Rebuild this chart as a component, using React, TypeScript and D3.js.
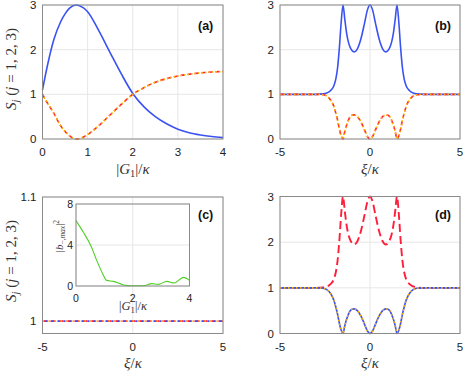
import React from 'react';
import * as d3 from 'd3';

// panel (a): S_j against |G1|/kappa
const gA = [0, 0.1, 0.25, 0.4, 0.5, 0.6, 0.75, 0.9, 1, 1.25, 1.5, 1.75, 2, 2.25, 2.5, 2.75, 3, 3.25, 3.5, 3.75, 4];
const sA1 = [1.1, 1.6, 2.22, 2.62, 2.8, 2.93, 3.0, 2.94, 2.85, 2.42, 1.93, 1.45, 1.02, 0.72, 0.5, 0.34, 0.22, 0.14, 0.09, 0.055, 0.03];
const sA23 = [1.0, 0.82, 0.58, 0.3, 0.17, 0.07, 0.0, 0.04, 0.1, 0.3, 0.54, 0.78, 1.0, 1.15, 1.27, 1.35, 1.41, 1.45, 1.48, 1.5, 1.51];

// panels (b), (d): S_j against xi/kappa
const xi = [
  -5, -4, -3, -2.6, -2.4, -2.2, -2.0, -1.9, -1.8, -1.7, -1.6, -1.5, -1.4, -1.3, -1.2, -1.1, -1.0, -0.88, -0.7, -0.5, -0.3, -0.15,
  0,
  0.15, 0.3, 0.5, 0.7, 0.88, 1.0, 1.1, 1.2, 1.3, 1.4, 1.5, 1.6, 1.7, 1.8, 1.9, 2.0, 2.2, 2.4, 2.6, 3, 4, 5,
];
const sHigh = [
  1, 1, 1, 1.01, 1.03, 1.08, 1.2, 1.34, 1.6, 2.05, 2.62, 3.0, 2.68, 2.37, 2.17, 2.05, 1.98, 1.95, 2.02, 2.25, 2.6, 2.88,
  3.0,
  2.88, 2.6, 2.25, 2.02, 1.95, 1.98, 2.05, 2.17, 2.37, 2.68, 3.0, 2.62, 2.05, 1.6, 1.34, 1.2, 1.08, 1.03, 1.01, 1, 1, 1,
];
const sLow = [
  1, 1, 1, 0.99, 0.96, 0.88, 0.72, 0.58, 0.42, 0.22, 0.07, 0, 0.17, 0.31, 0.42, 0.5, 0.53, 0.54, 0.5, 0.38, 0.2, 0.06,
  0,
  0.06, 0.2, 0.38, 0.5, 0.54, 0.53, 0.5, 0.42, 0.31, 0.17, 0, 0.07, 0.22, 0.42, 0.58, 0.72, 0.88, 0.96, 0.99, 1, 1, 1,
];

// panel (c): flat line and inset
const xiC = [-5, 5];
const sC = [1, 1];
const gInset = [0, 0.26, 0.52, 0.73, 0.94, 1.08, 1.32, 1.55, 1.73, 1.96, 2.38, 2.67, 2.9, 3.2, 3.46, 3.79, 4.0];
const bInset = [6.38, 5.24, 3.95, 2.5, 1.2, 0.55, 0.45, 0.23, 0.06, 0.03, 0.03, 0.23, 0.16, 0.45, 0.29, 0.84, 0.55];

const ticksG = [0, 1, 2, 3, 4];
const ticksXi = [-5, 0, 5];
const ticksS = [0, 1, 2, 3];
const ticksC = [1, 1.1];
const ticksInX = [0, 2, 4];
const ticksInY = [0, 4, 8];

const BLUE = '#3b52f2';
const RED = '#ff1f3a';
const ORANGE = '#ffb300';
const GREEN = '#4fcf25';
const BOX = '#8a8a8a';
const GRID = '#e6e6e6';
const SANS = 'Liberation Sans, Arial, sans-serif';
const SERIF = 'Liberation Serif, Times New Roman, serif';

type Sc = d3.ScaleLinear<number, number>;

const path = (xs: number[], ys: number[], x: Sc, y: Sc) =>
  d3.line<number>().x((d) => x(d)).y((_, i) => y(ys[i])).curve(d3.curveMonotoneX)(xs) || '';

function Axes(props: {
  x: Sc; y: Sc; xt: number[]; yt: number[]; fs?: number; gap?: number; children?: React.ReactNode;
}) {
  const { x, y, xt, yt, children } = props;
  const fs = props.fs || 11.5;
  const gap = props.gap || 6;
  const [l, r] = x.range();
  const [b, t] = y.range();
  return (
    <g>
      <rect x={l} y={t} width={r - l} height={b - t} fill="#fff" />
      {xt.map((v) => <line key={'gx' + v} x1={x(v)} x2={x(v)} y1={t} y2={b} stroke={GRID} />)}
      {yt.map((v) => <line key={'gy' + v} x1={l} x2={r} y1={y(v)} y2={y(v)} stroke={GRID} />)}
      {children}
      <rect x={l} y={t} width={r - l} height={b - t} fill="none" stroke={BOX} strokeWidth={1} />
      {xt.map((v) => (
        <text key={'tx' + v} x={x(v)} y={b + fs * 1.5} textAnchor="middle" fontSize={fs} fontFamily={SANS} fill="#222">{v}</text>
      ))}
      {yt.map((v) => (
        <text key={'ty' + v} x={l - gap} y={y(v) + fs * 0.36} textAnchor="end" fontSize={fs} fontFamily={SANS} fill="#222">{v}</text>
      ))}
    </g>
  );
}

const GLabel = (p: { x: number; y: number; fs: number }) => (
  <text x={p.x} y={p.y} textAnchor="middle" fontSize={p.fs} fontFamily={SERIF} fill="#333">
    |<tspan fontStyle="italic">G</tspan><tspan fontSize={p.fs * 0.7} dy={p.fs * 0.2}>1</tspan><tspan dy={-p.fs * 0.2}>|/</tspan><tspan fontStyle="italic">κ</tspan>
  </text>
);

const XiLabel = (p: { x: number; y: number }) => (
  <text x={p.x} y={p.y} textAnchor="middle" fontSize={15} fontFamily={SERIF} fill="#333">
    <tspan fontStyle="italic">ξ</tspan>/<tspan fontStyle="italic">κ</tspan>
  </text>
);

const SLabel = (p: { cy: number }) => (
  <text transform={`translate(16,${p.cy}) rotate(-90)`} textAnchor="middle" fontSize={15} fontFamily={SERIF} fill="#333">
    <tspan fontStyle="italic">S</tspan><tspan fontStyle="italic" fontSize={10.5} dy={3}>j</tspan>
    <tspan dy={-3}>{'  ('}</tspan><tspan fontStyle="italic">j</tspan>{' = 1, 2, 3)'}
  </text>
);

const Tag = (p: { x: number; y: number; s: string }) => (
  <text x={p.x} y={p.y} fontSize={12.5} fontWeight="bold" fontFamily={SANS} fill="#111">{p.s}</text>
);

export default function App() {
  const xa = d3.scaleLinear().domain([0, 4]).range([42.5, 223]);
  const ya = d3.scaleLinear().domain([0, 3]).range([139, 5]);
  const xb = d3.scaleLinear().domain([-5, 5]).range([280, 460]);
  const yb = d3.scaleLinear().domain([0, 3]).range([139, 5]);
  const xc = d3.scaleLinear().domain([-5, 5]).range([42.5, 223]);
  const yc = d3.scaleLinear().domain([0.99, 1.1]).range([333.5, 197]);
  const xd = d3.scaleLinear().domain([-5, 5]).range([280, 460]);
  const yd = d3.scaleLinear().domain([0, 3]).range([333.5, 196.5]);
  const xi2 = d3.scaleLinear().domain([0, 4]).range([76, 189.5]);
  const yi2 = d3.scaleLinear().domain([0, 8]).range([286, 204]);

  return (
    <svg width={464} height={374} style={{ position: 'absolute', left: 0, top: 0 }}>
      <rect width={464} height={374} fill="#fff" />

      {/* (a) */}
      <Axes x={xa} y={ya} xt={ticksG} yt={ticksS}>
        <path d={path(gA, sA1, xa, ya)} fill="none" stroke={BLUE} strokeWidth={1.6} />
        <path d={path(gA, sA23, xa, ya)} fill="none" stroke={RED} strokeWidth={1.6} strokeDasharray="4,3" />
        <path d={path(gA, sA23, xa, ya)} fill="none" stroke={ORANGE} strokeWidth={1.7} strokeDasharray="1.5,2" />
      </Axes>
      <Tag x={198} y={30} s="(a)" />
      <GLabel x={133} y={174} fs={15} />
      <SLabel cy={69} />

      {/* (b) */}
      <Axes x={xb} y={yb} xt={ticksXi} yt={ticksS}>
        <path d={path(xi, sHigh, xb, yb)} fill="none" stroke={BLUE} strokeWidth={1.6} />
        <path d={path(xi, sLow, xb, yb)} fill="none" stroke={RED} strokeWidth={1.6} strokeDasharray="4,3" />
        <path d={path(xi, sLow, xb, yb)} fill="none" stroke={ORANGE} strokeWidth={1.7} strokeDasharray="1.5,2" />
      </Axes>
      <Tag x={435} y={30} s="(b)" />
      <XiLabel x={370} y={174} />

      {/* (c) */}
      <Axes x={xc} y={yc} xt={ticksXi} yt={ticksC}>
        <path d={path(xiC, sC, xc, yc)} fill="none" stroke={RED} strokeWidth={1.8} strokeDasharray="5,3" />
        <path d={path(xiC, sC, xc, yc)} fill="none" stroke={BLUE} strokeWidth={1.6} strokeDasharray="2,4" strokeDashoffset={-3} />
        <path d={path(xiC, sC, xc, yc)} fill="none" stroke={ORANGE} strokeWidth={1.6} strokeDasharray="1.5,4.5" />
      </Axes>
      <Tag x={198} y={219} s="(c)" />
      <XiLabel x={133} y={368} />
      <SLabel cy={261} />
      <Axes x={xi2} y={yi2} xt={ticksInX} yt={ticksInY} fs={10.5} gap={3}>
        <path d={path(gInset, bInset, xi2, yi2)} fill="none" stroke={GREEN} strokeWidth={1.1} />
      </Axes>
      <GLabel x={133} y={310} fs={12.5} />
      <text transform="translate(63,236) rotate(-90)" textAnchor="middle" fontSize={11} fontFamily={SERIF} fill="#333">
        <tspan>|</tspan><tspan fontStyle="italic">b</tspan><tspan fontSize={7.5} dy={2}>−,</tspan><tspan fontSize={7.5} fontStyle="italic">max</tspan><tspan dy={-2}>|</tspan><tspan fontSize={7.5} dy={-4.5}>2</tspan>
      </text>

      {/* (d) */}
      <Axes x={xd} y={yd} xt={ticksXi} yt={ticksS}>
        <path d={path(xi, sHigh, xd, yd)} fill="none" stroke={RED} strokeWidth={1.9} strokeDasharray="8,4" />
        <path d={path(xi, sLow, xd, yd)} fill="none" stroke={BLUE} strokeWidth={1.6} />
        <path d={path(xi, sLow, xd, yd)} fill="none" stroke={ORANGE} strokeWidth={1.6} strokeDasharray="1.5,2.5" />
      </Axes>
      <Tag x={435} y={219} s="(d)" />
      <XiLabel x={370} y={368} />
    </svg>
  );
}
